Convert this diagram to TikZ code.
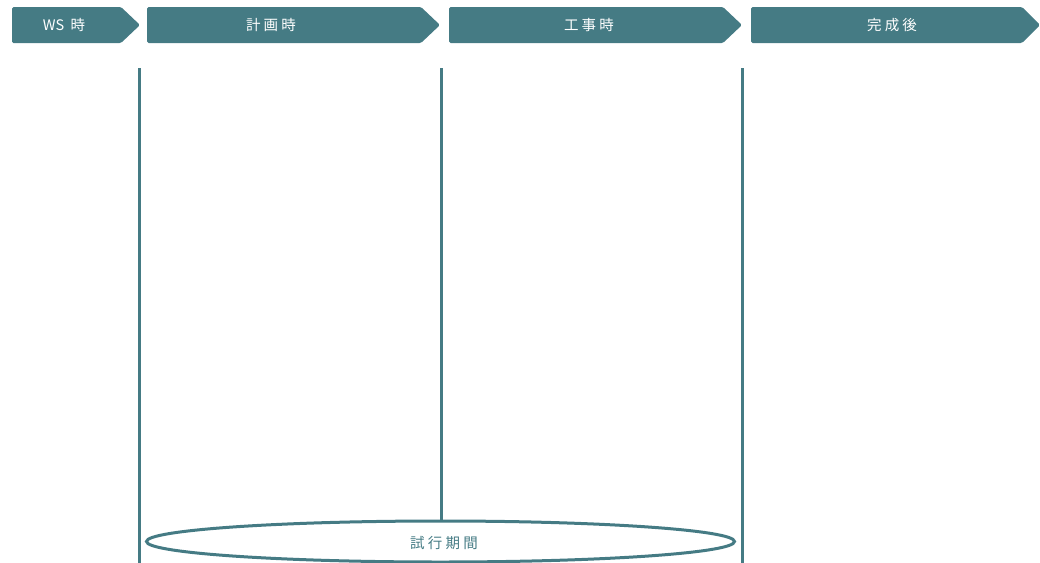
\documentclass[tikz,border=0pt]{standalone}
\usepackage{fontspec}
\newfontfamily\cjk[LetterSpace=22]{Noto Sans CJK JP}
\newfontfamily\cjkn{Noto Sans CJK JP}
\definecolor{teal1}{HTML}{457B84}
\begin{document}
\begin{tikzpicture}[x=1pt,y=-1pt,
  chev/.style={fill=teal1,draw=none},
  chevtext/.style={text=white,font=\cjk\fontsize{14.5}{16}\selectfont,inner sep=0pt},
  vline/.style={draw=teal1,line width=3pt},
]
\useasboundingbox (0,0) rectangle (1040,562);
% chevrons
\fill[chev,rounded corners=1.5pt] (12,7) -- (121,7) -- (140,25) -- (121,43) -- (12,43) -- cycle;
\fill[chev,rounded corners=1.5pt] (147,7) -- (421,7) -- (440,25) -- (421,43) -- (147,43) -- cycle;
\fill[chev,rounded corners=1.5pt] (449,7) -- (723,7) -- (742,25) -- (723,43) -- (449,43) -- cycle;
\fill[chev,rounded corners=1.5pt] (751,7) -- (1022,7) -- (1040,25) -- (1022,43) -- (751,43) -- cycle;
\node[chevtext] (t1) at (64,25) {{\cjkn\fontsize{14.5}{16}\selectfont WS}\ 時};
\node[chevtext] (t2) at (271,25) {計画時};
\node[chevtext] (t3) at (589,25) {工事時};
\node[chevtext] (t4) at (892,25) {完成後};
% vertical lines
\coordinate (l1t) at (139.5,68);
\coordinate (l1b) at (139.5,563);
\coordinate (l2t) at (441,68);
\coordinate (l3t) at (742.5,68);
\coordinate (l3b) at (742.5,563);
% ellipse
\draw[draw=teal1,line width=3pt] (440.5,541.5) ellipse [x radius=294, y radius=20.5];
\coordinate (etop) at (441,521);
\node[text=teal1,font=\cjk\fontsize{14.5}{16}\selectfont,inner sep=0pt] (trial) at (444,543) {試行期間};
\draw[vline] (l1t) -- (l1b);
\draw[vline] (l2t) -- (etop);
\draw[vline] (l3t) -- (l3b);
\end{tikzpicture}
\end{document}
